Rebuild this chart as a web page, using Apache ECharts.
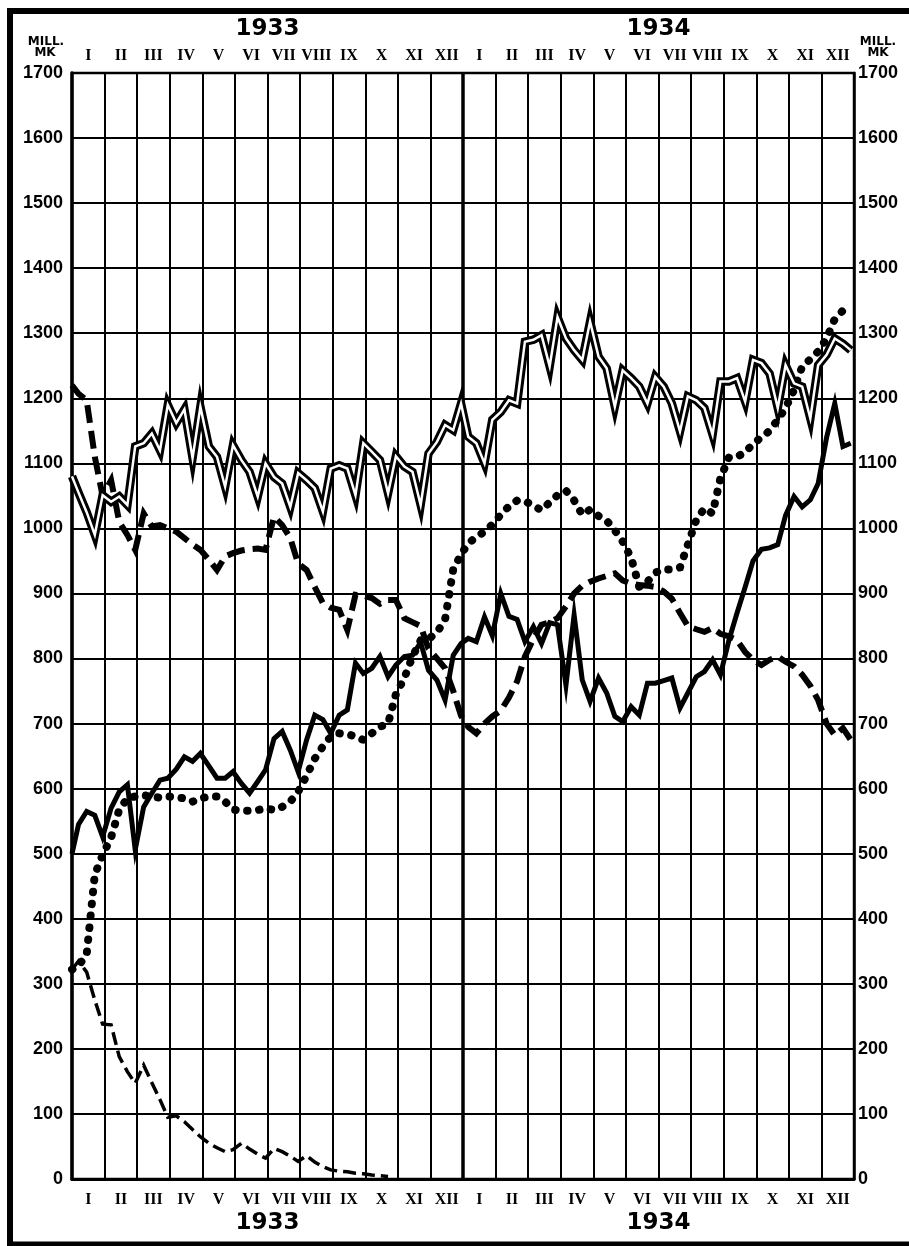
<!DOCTYPE html>
<html>
<head>
<meta charset="utf-8">
<title>Mill. MK 1933 - 1934</title>
<script src="https://cdn.jsdelivr.net/npm/echarts@6/dist/echarts.min.js"></script>
<style>
  html, body { margin: 0; padding: 0; background: #fff; }
  #chart { width: 909px; height: 1246px; }
</style>
</head>
<body>
<div id="chart"></div>
<script>
// 月份和年份
var months = ['I', 'II', 'III', 'IV', 'V', 'VI', 'VII', 'VIII', 'IX', 'X', 'XI', 'XII'];
var monthLabels = months.concat(months);
var years = ['1933', '1934'];
var yMin = 0, yMax = 1700, yStep = 100;

// weekly returns: end of previous year, then 4 per month (7th, 15th, 23rd, month end)
var weekFrac1933 = [0.2, 0.45, 0.7, 0.94];
var weekFrac1934 = [0.16, 0.41, 0.66, 0.9];

// double line
var doubleLine = [1080,
  1055, 1025, 990, 1051,   1041, 1049, 1036, 1126,   1131, 1146, 1120, 1190,
  1162, 1183, 1108, 1187,  1126, 1110, 1064, 1128,   1105, 1087, 1049, 1100,
  1079, 1069, 1033, 1085,  1074, 1062, 1026, 1092,   1097, 1092, 1051, 1131,
  1118, 1105, 1054, 1111,  1095, 1087, 1036, 1115,   1133, 1159, 1151, 1192,
  1141, 1131, 1100, 1167,  1179, 1197, 1192, 1287,   1290, 1297, 1249, 1325,
  1292, 1274, 1259, 1318,  1264, 1246, 1187, 1243,   1231, 1218, 1192, 1233,
  1218, 1192, 1149, 1203,  1197, 1185, 1144, 1226,   1226, 1231, 1195, 1259,
  1254, 1238, 1185, 1251,  1223, 1218, 1169, 1251,   1267, 1292, 1284, 1274];

// thick dashed line
var dashedLine = [1220,
  1207, 1197, 1110, 1050,  1074, 1010, 990, 967,     1023, 1003, 1005, 1000,
  995, 985, 975, 967,      952, 936, 957, 962,       966, 968, 969, 967,
  1018, 1005, 985, 946,    936, 910, 885, 878,       875, 844, 898, 897,
  893, 884, 890, 890,      862, 856, 850, 815,       800, 785, 750, 712,
  695, 685, 700, 711,      720, 740, 765, 803,       830, 852, 856, 862,
  880, 900, 912, 918,      923, 927, 931, 920,       915, 913, 912, 910,
  903, 892, 870, 850,      845, 841, 847, 838,       834, 828, 810, 798,
  790, 798, 803, 795,      788, 775, 758, 736,       700, 682, 693, 675];

// solid line
var solidLine = [500,
  545, 565, 559, 526,      570, 595, 606, 506,       572, 593, 613, 616,
  630, 649, 642, 654,      635, 616, 616, 626,       608, 593, 611, 629,
  677, 688, 659, 626,      675, 713, 706, 685,       713, 721, 793, 777,
  785, 803, 772, 790,      803, 805, 825, 782,       767, 736, 805, 823,
  831, 826, 864, 835,      900, 865, 860, 826,       849, 823, 855, 852,
  759, 867, 767, 734,      770, 747, 711, 703,       726, 713, 762, 762,
  766, 770, 724, 747,      772, 780, 798, 775,       828, 870, 910, 950,
  968, 970, 975, 1020,     1049, 1033, 1044, 1069,   1140, 1192, 1126, 1131];

// dotted line
var dottedLine = [322,
  328, 345, 468, 498,      525, 568, 585, 588,       590, 588, 586, 588,
  587, 585, 580, 585,      588, 588, 580, 568,       566, 566, 567, 570,
  567, 572, 580, 595,      620, 646, 665, 680,       685, 684, 680, 675,
  685, 695, 700, 745,      770, 803, 828, 830,       840, 860, 937, 960,
  977, 987, 995, 1006,     1021, 1034, 1043, 1042,   1035, 1028, 1040, 1051,
  1058, 1043, 1021, 1029,  1019, 1012, 997, 980,     955, 910, 918, 932,
  937, 937, 940, 975,      1013, 1031, 1023, 1077,   1109, 1110, 1117, 1130,
  1140, 1150, 1167, 1185,  1213, 1249, 1260, 1272,   1292, 1322, 1335, 1325];

// thin dashed line (ends in October 1933)
var thinLine = [322,
  335, 318, 275, 238,      237, 188, 165, 147,       175, 148, 122, 95,
  97, 88, 76, 65,          55, 48, 42, 45,           55, 46, 38, 32,
  47, 42, 35, 27,          36, 26, 19, 14,           12, 11, 9, 8,
  6, 5, 4];

var weeks = [0];
for (var k = 0; k < 24; k++) {
  var f = k < 12 ? weekFrac1933 : weekFrac1934;
  for (var j = 0; j < 4; j++) weeks.push(k + f[j]);
}
function pairs(vals) {
  return vals.map(function (v, i) { return [weeks[i], v]; });
}

var chart = echarts.init(document.getElementById('chart'));

var numFont = { color: '#000', fontFamily: 'Liberation Sans', fontWeight: 'bold', fontSize: 18,
  formatter: function (v) { return String(v); } };
var romanFont = { color: '#000', fontFamily: 'Liberation Serif', fontWeight: 'bold', fontSize: 16 };
var yearFont = { color: '#000', fontFamily: 'DejaVu Sans', fontWeight: 'bold', fontSize: 23 };

function labelAxis(data, pos, margin, font) {
  return {
    type: 'category', data: data, position: pos, boundaryGap: true,
    axisLine: { show: false }, axisTick: { show: false }, splitLine: { show: false },
    axisLabel: Object.assign({ interval: 0, margin: margin, verticalAlign: 'middle' }, font)
  };
}
function line(vals, style, z) {
  return {
    type: 'line', data: pairs(vals), xAxisIndex: 0, yAxisIndex: 0,
    showSymbol: false, symbol: 'none', silent: true, z: z,
    lineStyle: Object.assign({ color: '#000', join: 'miter', miterLimit: 10 }, style)
  };
}

var dashed = line(dashedLine, { width: 6, type: [18, 8] }, 3);
// 1933 / 1934 dividing line
dashed.markLine = {
  silent: true, symbol: ['none', 'none'], label: { show: false },
  lineStyle: { type: 'solid', color: '#000', width: 3.5 },
  data: [{ xAxis: 12 }]
};

var option = {
  animation: false,
  backgroundColor: '#fff',
  grid: { left: 72, right: 55, top: 73, bottom: 67, show: true, borderColor: '#000', borderWidth: 2.5 },
  xAxis: [
    {
      type: 'value', min: 0, max: 24, interval: 1, position: 'bottom',
      axisLine: { show: true, lineStyle: { color: '#000', width: 3 } },
      axisTick: { show: false }, axisLabel: { show: false },
      splitLine: { show: true, lineStyle: { color: '#000', width: 2 } }
    },
    labelAxis(monthLabels, 'top', 17, romanFont),
    labelAxis(years, 'top', 44, yearFont),
    labelAxis(monthLabels, 'bottom', 21, romanFont),
    labelAxis(years, 'bottom', 44, yearFont)
  ],
  yAxis: [
    {
      type: 'value', min: yMin, max: yMax, interval: yStep, position: 'left',
      axisLine: { show: true, lineStyle: { color: '#000', width: 3.5 } },
      axisTick: { show: false },
      axisLabel: Object.assign({ margin: 9 }, numFont),
      splitLine: { show: true, lineStyle: { color: '#000', width: 2 } }
    },
    {
      type: 'value', min: yMin, max: yMax, interval: yStep, position: 'right',
      axisLine: { show: true, lineStyle: { color: '#000', width: 2.5 } },
      axisTick: { show: false },
      axisLabel: Object.assign({ margin: 4 }, numFont),
      splitLine: { show: false }
    }
  ],
  series: [
    dashed,
    line(thinLine, { width: 3.5, type: [13, 6] }, 3),
    line(solidLine, { width: 5 }, 4),
    line(dottedLine, { width: 8, type: [0.5, 11.5], cap: 'round' }, 5),
    line(doubleLine, { width: 8.5 }, 6),
    line(doubleLine, { width: 2.5, color: '#fff' }, 7)
  ],
  graphic: [
    // frame
    { type: 'line', shape: { x1: 10, y1: 8, x2: 10, y2: 1246 }, style: { stroke: '#000', lineWidth: 6 } },
    { type: 'line', shape: { x1: 7, y1: 11, x2: 909, y2: 11 }, style: { stroke: '#000', lineWidth: 6 } },
    { type: 'line', shape: { x1: 7, y1: 1244, x2: 909, y2: 1244 }, style: { stroke: '#000', lineWidth: 5 } },
    // unit labels
    { type: 'text', x: 46, y: 42, style: { text: 'MILL.', align: 'center', verticalAlign: 'middle', font: 'bold 12px "DejaVu Sans"', fill: '#000' } },
    { type: 'text', x: 45, y: 53, style: { text: 'MK', align: 'center', verticalAlign: 'middle', font: 'bold 12px "DejaVu Sans"', fill: '#000' } },
    { type: 'text', x: 878, y: 42, style: { text: 'MILL.', align: 'center', verticalAlign: 'middle', font: 'bold 12px "DejaVu Sans"', fill: '#000' } },
    { type: 'text', x: 878, y: 53, style: { text: 'MK', align: 'center', verticalAlign: 'middle', font: 'bold 12px "DejaVu Sans"', fill: '#000' } }
  ]
};

chart.setOption(option);
</script>
</body>
</html>
